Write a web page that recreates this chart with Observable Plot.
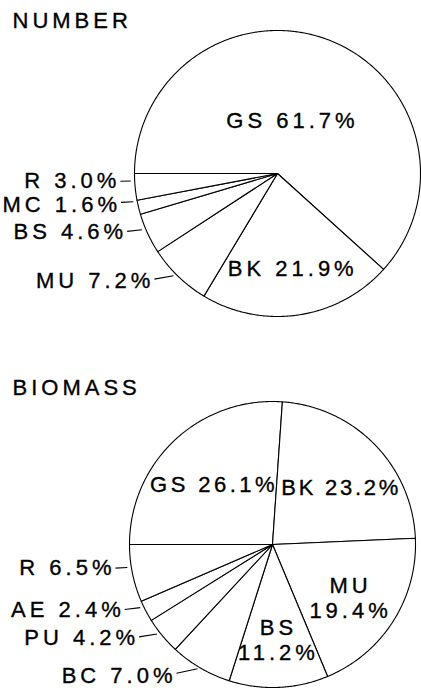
<!DOCTYPE html>
<html><head><meta charset="utf-8">
<script src="https://cdn.jsdelivr.net/npm/d3@7"></script>
<script src="https://cdn.jsdelivr.net/npm/@observablehq/plot@0.6"></script>
<style>body{margin:0;background:#fff}</style>
</head><body><div id="chart"></div>
<script>
// Data
const titles = ["NUMBER", "BIOMASS"];
const numberCategories = ["GS", "BK", "MU", "BS", "MC", "R"];
const numberValues = [61.7, 21.9, 7.2, 4.6, 1.6, 3.0];
const biomassCategories = ["GS", "BK", "MU", "BS", "BC", "PU", "AE", "R"];
const biomassValues = [26.1, 23.2, 19.4, 11.2, 7.0, 4.2, 2.4, 6.5];

const W = 421, H = 693;
const FONT = "'Liberation Sans', Arial, Helvetica, sans-serif";
const FS = 22, LS = 4;
const pies = [
  {title: titles[0], cats: numberCategories, vals: numberValues, cx: 277, cy: 173, r: 143, titleY: 27},
  {title: titles[1], cats: biomassCategories, vals: biomassValues, cx: 272, cy: 544, r: 143, titleY: 394}
];

const ctx = document.createElement("canvas").getContext("2d");
ctx.font = FS + "px " + FONT;
const rawWidth = s => ctx.measureText(s).width;

const slices = [], labelsIn = [], labelsOut = [], leaders = [], titleRows = [];
pies.forEach((p, pi) => {
  const data = p.cats.map((c, i) => ({name: c, value: p.vals[i]}));
  const arcs = d3.pie().sort(null).value(d => d.value)
    .startAngle(-Math.PI / 2).endAngle(1.5 * Math.PI)(data);
  const outer = [];
  arcs.forEach((a, i) => {
    const id = pi + "-" + i;
    slices.push({id, x: p.cx, y: p.cy});
    const n = Math.max(2, Math.ceil((a.endAngle - a.startAngle) / (Math.PI / 360)));
    for (let k = 0; k <= n; k++) {
      const t = a.startAngle + (a.endAngle - a.startAngle) * k / n;
      slices.push({id, x: p.cx + p.r * Math.sin(t), y: p.cy - p.r * Math.cos(t)});
    }
    const mid = (a.startAngle + a.endAngle) / 2;
    const v = a.data.value, name = a.data.name, pct = v.toFixed(1) + "%";
    if (v >= 10) {
      const f = v > 50 ? 0.42 : 0.63;
      const am = v > 50 ? mid - 0.15 : mid;
      let x = p.cx + f * p.r * Math.sin(am);
      const y = p.cy - f * p.r * Math.cos(am) + 5;
      const two = v < 20;
      const text = two ? name + "\n" + pct : name + " " + pct;
      let ls = LS;
      // keep a one-line label inside its slice horizontally
      if (!two) {
        const inside = xx => {
          const dx = xx - p.cx, dy = y - 6 - p.cy;
          if (Math.hypot(dx, dy) > p.r) return false;
          let ang = Math.atan2(dx, -dy);
          if (ang < -Math.PI / 2) ang += 2 * Math.PI;
          return ang >= a.startAngle && ang <= a.endAngle;
        };
        let lo = x, hi = x;
        while (inside(lo - 0.5)) lo -= 0.5;
        while (inside(hi + 0.5)) hi += 0.5;
        const pad = 3, raw = rawWidth(text), gaps = text.length - 1;
        const avail = hi - lo - 2 * pad;
        if (raw + LS * gaps > avail) {
          ls = Math.max(1.5, (avail - raw) / gaps);
          x = (lo + hi) / 2;
        } else {
          const w = raw + LS * gaps;
          if (x - w / 2 < lo + pad) x = lo + pad + w / 2;
          else if (x + w / 2 > hi - pad) x = hi - pad - w / 2;
        }
      }
      labelsIn.push({x, y, text, ls});
    } else {
      const c = Math.cos(mid);
      const y1 = p.cy - p.r * c - 6 + 10 * Math.max(0, -c - 0.2);
      const x1 = p.cx - Math.sqrt(p.r * p.r - (y1 - p.cy) ** 2) - 4;
      const len = 9 + 14 * Math.max(0, -c);
      const slope = 0.25 * Math.max(0, -c);
      const x2 = x1 - len, y2 = y1 + len * slope;
      leaders.push({x1, y1, x2, y2});
      outer.push({x: x2 - 4, y: y2 + 2 * Math.max(0, -c - 0.4) * 3, text: name + " " + pct});
    }
  });
  // keep outer labels from colliding
  outer.sort((u, v) => u.y - v.y);
  for (let i = 1; i < outer.length; i++) {
    if (outer[i].y - outer[i - 1].y < 24) outer[i].y = outer[i - 1].y + 24;
  }
  labelsOut.push(...outer);
  titleRows.push({x: 12, y: p.titleY, text: p.title});
});

const textOpts = {x: "x", y: "y", text: "text", fontSize: FS, fontFamily: FONT, fill: "black", stroke: "black", strokeWidth: 0.35};
const chart = Plot.plot({
  width: W, height: H, margin: 0,
  x: {domain: [0, W], range: [0, W], axis: null},
  y: {domain: [0, H], range: [0, H], axis: null},
  style: {background: "white", fontFamily: FONT, letterSpacing: LS + "px", overflow: "visible"},
  marks: [
    Plot.line(slices, {x: "x", y: "y", z: "id", curve: "linear-closed", fill: "white", stroke: "black", strokeWidth: 1.1}),
    Plot.link(leaders, {x1: "x1", y1: "y1", x2: "x2", y2: "y2", stroke: "black", strokeWidth: 1.1}),
    Plot.text(labelsIn, {...textOpts, textAnchor: "middle", lineAnchor: "middle", lineHeight: 1.14, dx: LS / 2}),
    Plot.text(labelsOut, {...textOpts, textAnchor: "end", lineAnchor: "middle", dx: LS}),
    Plot.text(titleRows, {...textOpts, textAnchor: "start", lineAnchor: "bottom"})
  ]
});
// tighten letter spacing for inner labels that need it to fit in their slice
const tight = new Map(labelsIn.filter(d => d.ls !== LS).map(d => [d.text, d.ls]));
chart.querySelectorAll("text").forEach(t => {
  const ls = tight.get(t.textContent);
  if (ls !== undefined) {
    t.style.letterSpacing = ls + "px";
    t.setAttribute("dx", ((LS - ls) / 2).toFixed(2));
  }
});
document.getElementById("chart").appendChild(chart);
</script>
</body></html>
